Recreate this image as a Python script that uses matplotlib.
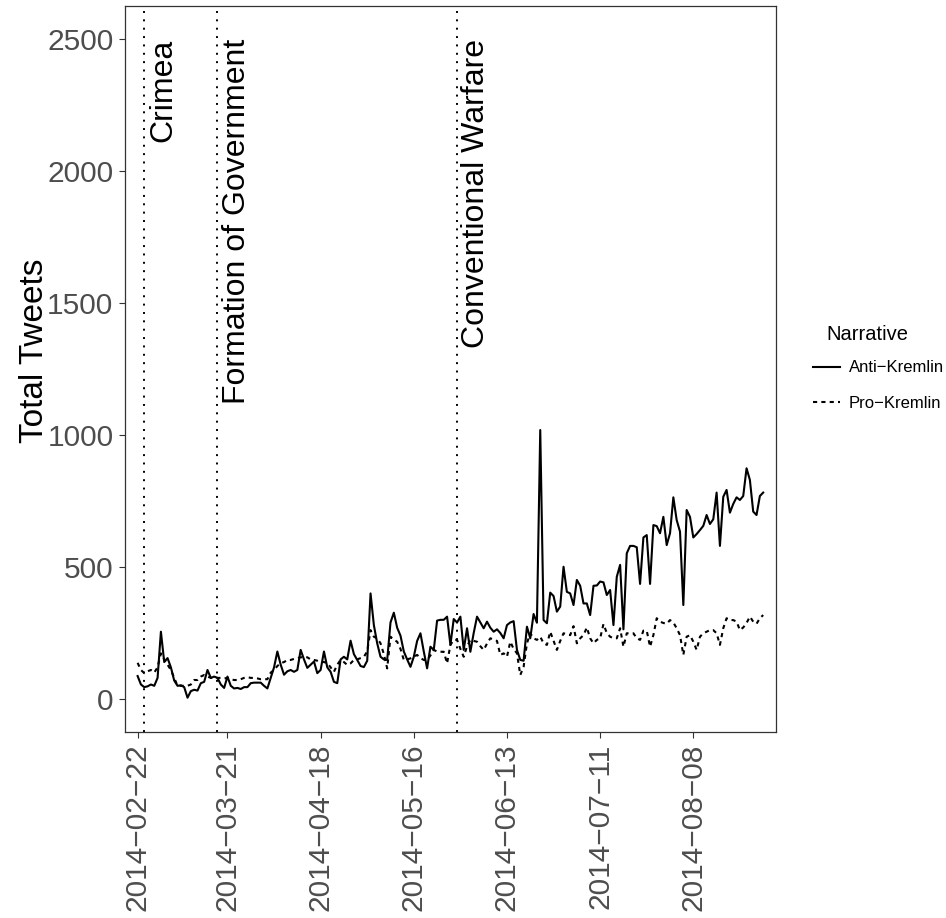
import datetime as dt
import matplotlib
matplotlib.use('Agg')
import matplotlib.pyplot as plt
import matplotlib.dates as mdates
from matplotlib.transforms import offset_copy

plt.rcParams['font.family'] = ['Liberation Sans', 'DejaVu Sans']

# daily tweet totals from 2014-02-22
start = dt.date(2014, 2, 22)
anti_kremlin = [
    87, 55, 45, 48, 55, 50, 80, 255, 140, 155,
    120, 70, 50, 52, 45, 5, 30, 35, 32, 60,
    65, 110, 80, 85, 80, 55, 42, 85, 50, 40,
    42, 38, 45, 45, 60, 62, 62, 62, 50, 40,
    80, 120, 180, 130, 92, 105, 110, 103, 110, 186,
    150, 118, 130, 142, 98, 110, 180, 120, 103, 65,
    60, 150, 160, 150, 221, 170, 148, 125, 121, 145,
    400, 280, 211, 160, 150, 148, 290, 327, 270, 240,
    180, 150, 122, 160, 220, 249, 180, 116, 198, 186,
    297, 300, 300, 312, 205, 303, 290, 312, 186, 268,
    179, 250, 312, 290, 268, 293, 270, 255, 264, 250,
    230, 280, 290, 295, 186, 148, 145, 274, 230, 322,
    289, 1019, 299, 287, 403, 390, 331, 350, 501, 406,
    400, 356, 451, 429, 362, 362, 318, 429, 430, 445,
    442, 394, 413, 280, 463, 508, 264, 552, 580, 580,
    575, 436, 612, 621, 436, 659, 655, 628, 690, 583,
    628, 764, 678, 634, 356, 716, 690, 612, 625, 640,
    656, 697, 663, 681, 782, 580, 766, 792, 706, 739,
    764, 754, 769, 874, 830, 710, 697, 769, 782,
]
pro_kremlin = [
    137, 110, 98, 105, 110, 100, 120, 173, 150, 130,
    110, 80, 50, 50, 50, 50, 55, 72, 72, 85,
    91, 85, 80, 80, 80, 80, 78, 80, 75, 72,
    72, 75, 80, 83, 80, 80, 78, 75, 75, 75,
    100, 110, 125, 136, 140, 148, 148, 152, 155, 158,
    158, 158, 150, 148, 145, 141, 140, 136, 120, 103,
    130, 148, 140, 129, 135, 148, 150, 155, 160, 180,
    261, 236, 230, 211, 170, 116, 236, 225, 217, 190,
    148, 150, 154, 160, 167, 155, 148, 148, 165, 186,
    180, 179, 179, 135, 205, 224, 224, 190, 160, 200,
    224, 220, 217, 200, 186, 210, 230, 225, 220, 167,
    173, 160, 217, 190, 173, 91, 122, 211, 249, 230,
    224, 236, 211, 205, 255, 220, 186, 220, 249, 245,
    242, 276, 211, 230, 242, 271, 230, 211, 224, 230,
    284, 250, 236, 230, 230, 268, 198, 249, 249, 249,
    230, 224, 259, 259, 198, 242, 306, 293, 288, 285,
    299, 290, 268, 242, 167, 236, 242, 217, 186, 236,
    249, 255, 261, 261, 249, 205, 268, 306, 299, 299,
    293, 261, 271, 288, 312, 293, 285, 306, 318,
]
dates = [start + dt.timedelta(days=i) for i in range(len(anti_kremlin))]

event_dates = [dt.date(2014, 2, 24), dt.date(2014, 3, 18), dt.date(2014, 5, 29)]
event_labels = ['Crimea', 'Formation of Government', 'Conventional Warfare']

tick_dates = [dt.date(2014, 2, 22), dt.date(2014, 3, 21), dt.date(2014, 4, 18),
              dt.date(2014, 5, 16), dt.date(2014, 6, 13), dt.date(2014, 7, 11),
              dt.date(2014, 8, 8)]
y_ticks = [0, 500, 1000, 1500, 2000, 2500]

fig = plt.figure(figsize=(9.46, 9.18), dpi=100)
ax = fig.add_axes([0.1321, 0.2026, 0.6882, 0.7908])

ax.plot(dates, anti_kremlin, color='black', lw=1.5, label='Anti\u2212Kremlin')
ax.plot(dates, pro_kremlin, color='black', lw=1.5, linestyle=(0, (2, 2)),
        label='Pro\u2212Kremlin')

# event markers with rotated labels hanging from 2500
for d, lab in zip(event_dates, event_labels):
    ax.axvline(d, color='black', lw=1.4, linestyle=(0, (1, 3.3)))
    tr = offset_copy(ax.transData, fig=fig, x=3, y=0, units='points')
    ax.text(d, 2500, lab, transform=tr, rotation=90, rotation_mode='anchor',
            ha='right', va='top', fontsize=23, color='black')

ax.set_xlim(mdates.date2num(start) - 3.8, mdates.date2num(start) + 191.85)
ax.set_ylim(-125, 2625)
ax.set_xticks(tick_dates)
ax.set_xticklabels([d.strftime('%Y-%m-%d').replace('-', '\u2212') for d in tick_dates],
                   rotation=90, va='top', ha='center')
ax.set_yticks(y_ticks)
ax.set_yticklabels([str(v) for v in y_ticks])

ax.tick_params(length=4.3, width=0.8, color='#333333', labelsize=21.5,
               labelcolor='#4D4D4D', pad=4)
for sp in ax.spines.values():
    sp.set_color('#333333')
    sp.set_linewidth(0.9)

ax.set_ylabel('Total Tweets', fontsize=24, color='black')
ax.yaxis.set_label_coords(-0.115, 0.525)

leg = ax.legend(loc='upper left', bbox_to_anchor=(1.047, 0.521),
                frameon=False, fontsize=12,
                handlelength=1.6, handletextpad=0.55, labelspacing=1.25,
                borderaxespad=0)
fig.text(826 / 946, 1 - 334 / 918, 'Narrative', ha='left', va='center',
         fontsize=14.5, color='black')

fig.savefig('out.png', dpi=100)
